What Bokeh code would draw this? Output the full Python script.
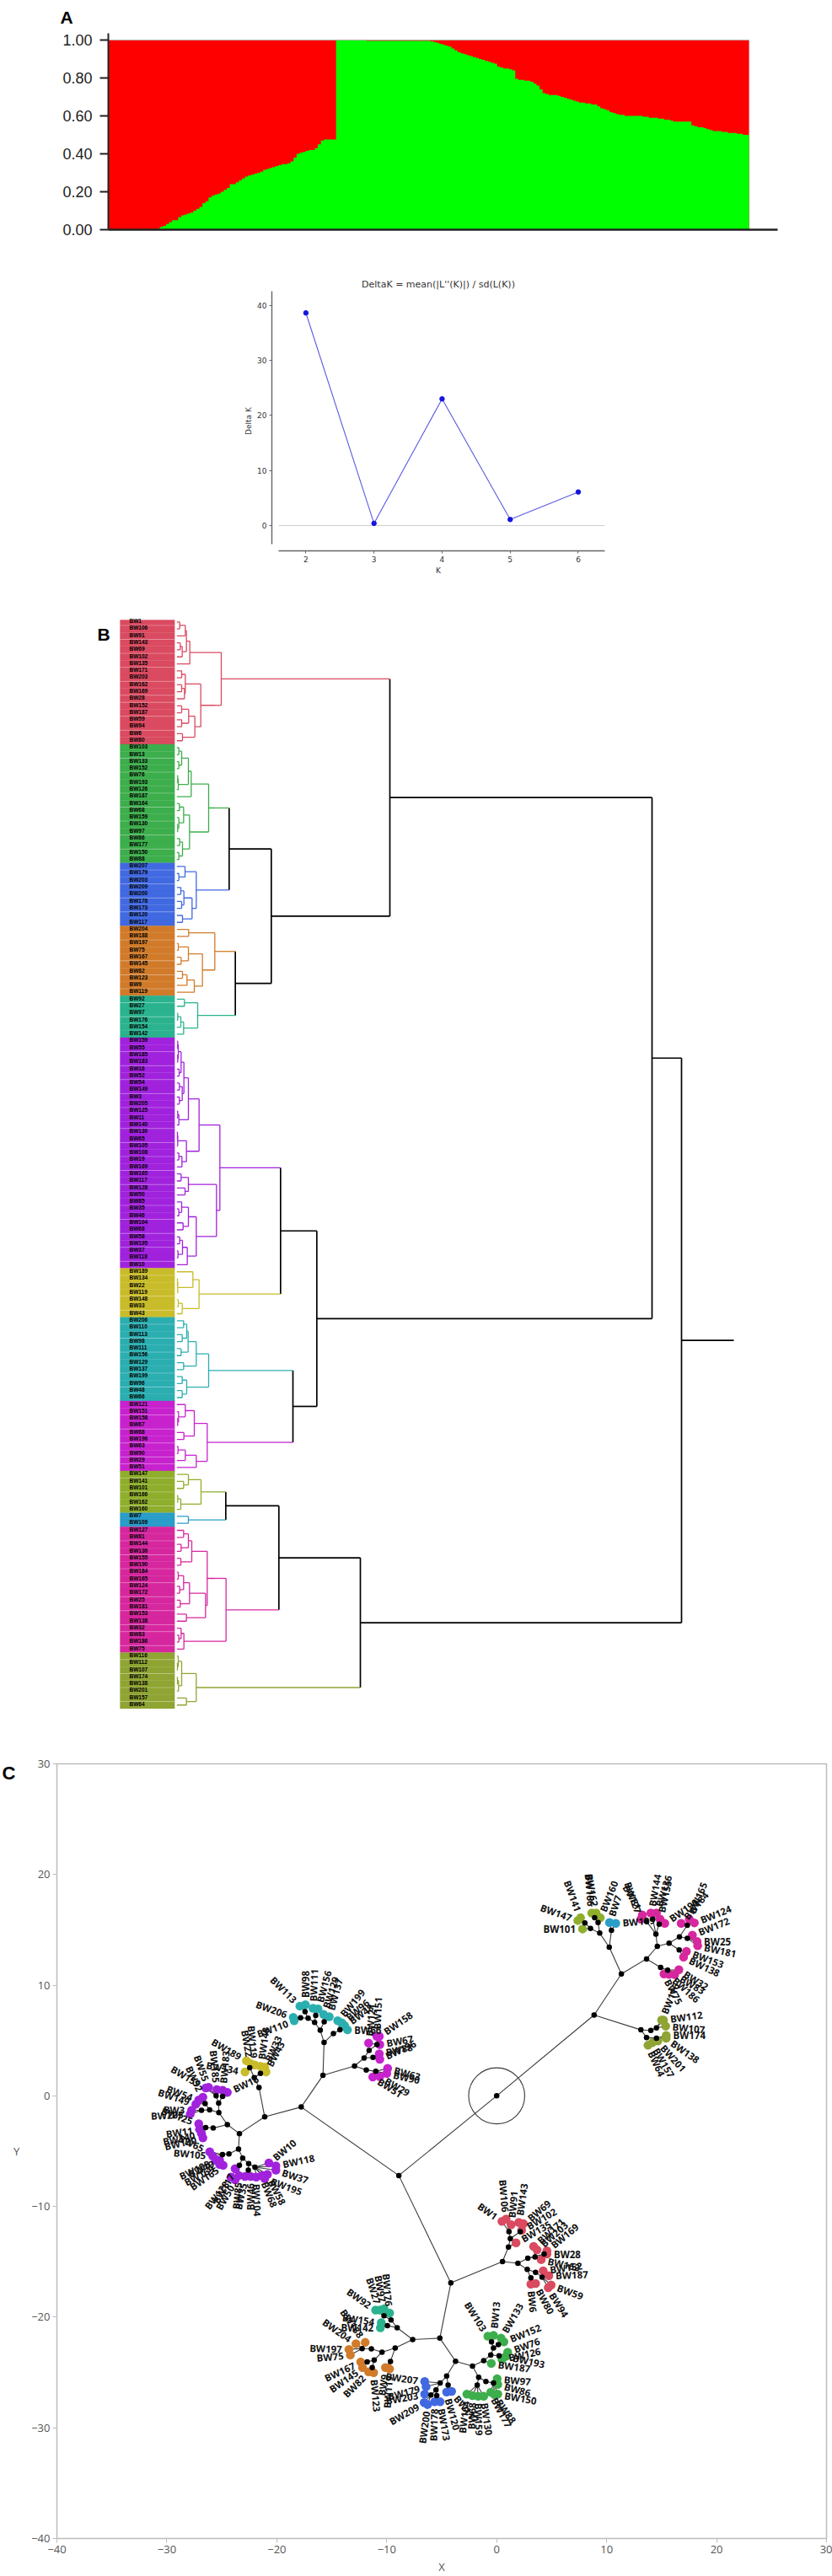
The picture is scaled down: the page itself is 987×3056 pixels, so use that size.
import math
from bokeh.plotting import figure
from bokeh.layouts import column
from bokeh.core.properties import value
from bokeh.models import ColumnDataSource, FixedTicker, Label, Range1d, NumeralTickFormatter
from bokeh.embed import file_html
from bokeh.resources import INLINE

# ---------- panel A: admixture proportions ----------
green_fraction = [
 0,0,0,0,0,0,0,0,0,0,0,0,0,0,0,0,
 .005,.014,.02,.03,.04,.05,.05,.065,.075,.08,.085,.09,.10,.11,.12,.14,.15,.17,.18,.185,.19,.20,.21,.22,
 .24,.24,.25,.26,.27,.28,.285,.29,.295,.30,.305,.315,.32,.325,.33,.335,.34,.345,.345,.35,.36,.38,.40,.405,
 .41,.415,.42,.42,.43,.45,.47,.475,.475,.475,.475,
 1,1,1,1,1,1,1,1,1,1,
 .995,.995,.995,.995,.995,.995,.995,.995,.995,.995,.995,.995,.995,.995,.995,.995,.995,.995,.995,.995,.995,
 .993,.99,.985,.98,.975,.97,.965,.955,.945,.935,.93,.925,.92,.915,.91,.905,.90,.895,.89,.885,.88,.875,.86,.855,.85,.85,.845,.84,
 .795,.79,.79,.785,.785,.78,.77,.76,.74,.72,.715,.71,.71,.71,.705,.70,.695,.69,.685,.68,.675,.67,.67,.665,.665,.66,.66,.65,.64,
 .635,.63,.62,.615,.61,.605,.605,.60,.60,.60,.60,.60,.60,.595,.595,.59,.59,.59,.585,.585,.58,.58,.575,.57,.57,.57,.57,.57,.57,
 .55,.545,.54,.54,.535,.53,.525,.52,.52,.52,.515,.515,.51,.51,.51,.505,.505,.50,.50]
k_values = [2, 3, 4, 5, 6]
delta_k = [38.6, 0.4, 23.0, 1.1, 6.1]
admix_ticks = [0, .2, .4, .6, .8, 1]
delta_ticks = [0, 10, 20, 30, 40]
net_ticks = [-40, -30, -20, -10, 0, 10, 20, 30]

# ---------- palette ----------
palette = dict(red="#DA4A60", green="#3DAE4C", blue="#4169E1", orange="#D17B2A", tgreen="#2AB38E",
               purple="#A122DD", yellow="#C9BC2A", teal="#2BAEB0", magenta="#C722CE", olive="#8FAE2C",
               sky="#2A9DC8", pink="#D6279E", dolive="#8FA432", black="#000000")
cluster_order = ["red","green","blue","orange","tgreen","purple","yellow","teal","magenta","olive","sky","pink","dolive"]
cluster_sizes = [18,17,9,10,6,33,7,12,10,6,2,18,8]

# ---------- panel B: dendrogram [height, child, child], leaves are row numbers ----------
leaf_height = 328
red_tree = [486,
  [374,[362,[358,[338,0,1],2],[347,[340,3,4],5]],6],
  [413,[358,[345,7,8],[355,[345,9,10],11]],[392,[370,[345,12,13],[345,14,15]],[348,16,17]]]]
green_tree = [441,
  [379,[369,[345,[335,18,19],[335,20,21]],[333,[331,22,23],24]],25],
  [373,[352,[337,26,27],[335,28,[331,29,30]]],[348,[338,31,32],[335,33,34]]]]
blue_tree = [397,[357,35,[335,36,37]],[382,[353,[342,38,39],[345,40,41]],[348,42,43]]]
orange_tree = [463,[370,44,45],[419,[369,[333,46,47],[343,48,49]],[390,[364,[348,50,51],52],53]]]
tgreen_tree = [402,[355,54,55],[352,[342,[331,56,57],58],59]]
purple_tree = [481,
  [407,
    [369,[353,[343,[333,[331,60,61],[331,62,63]],[336,64,65]],[347,[337,66,67],[337,68,69]]],[335,[331,70,71],72]],
    [362,[331,[330,73,74],75],[346,[335,76,77],78]]],
  [469,
    [369,[343,79,80],[357,81,82]],
    [397,[369,[345,83,[335,84,85]],[350,86,87]],[365,[348,[338,88,89],[332,90,91]],92]]]]
yellow_tree = [407,[385,93,[331,[330,94,95],96]],[347,[333,97,98],99]]
teal_tree = [441,[397,[368,[363,[352,100,101],[347,102,103]],[343,104,105]],[352,106,107]],[363,[347,108,109],[347,110,111]]]
magenta_tree = [436,[390,[358,112,[334,113,[331,114,115]]],[353,116,117]],[397,[358,[332,118,119],120],121]]
olive_tree = [414,[369,122,[352,123,124]],[342,[331,125,126],127]]
sky_tree = [369,128,129]
pink_tree = [503,
  [436,[381,[369,[352,130,131],[343,132,133]],[342,134,135]],
       [430,[373,[352,[333,136,137],[338,138,139]],[340,140,141]],[362,142,143]]],
  [353,[343,144,[335,145,146]],147]]
dolive_tree = [397,[345,[333,148,[330,149,150]],[334,[330,151,152],153]],[362,154,155]]
root_stem = 2310
dendro = [2124,
  [2019,
    [1086,("red",red_tree),
      [664,[514,("green",green_tree),("blue",blue_tree)],[536,("orange",orange_tree),("tgreen",tgreen_tree)]]],
    [826,[697,("purple",purple_tree),("yellow",yellow_tree)],[741,("teal",teal_tree),("magenta",magenta_tree)]]],
  [981,[691,[502,("olive",olive_tree),("sky",sky_tree)],("pink",pink_tree)],("dolive",dolive_tree)]]
row_breaks = [0,2,4,6,8,10,11,13,15,19,21,24,26,28,30,32,35,37,39,41,45,48,50,52,54,56,61,63,65,67,69,72,74,76,78,80,83,85,87,89,91,
              93,96,98,100,102,104,107,109,113,115,117,119,120,122,124,126,131,133,135,137,139,141,143,144,146,148,150,152,154]

# ---------- panel C: network ----------
def N(x, y, *kids, color=None):
    return dict(x=x, y=y, kids=kids, color=color)
def L(x, y, name, ang):
    return dict(x=x, y=y, name=name, ang=ang)

net_teal = N(-15.7,4.82,
  N(-16.05,5.93,
    N(-16.56,6.64,
      N(-17.15,7.02,
        N(-17.84,7.05,L(-18.5,7.1,"BW206",160),L(-18.42,6.79,"BW110",200)),
        N(-17.43,7.6,L(-17.9,8.11,"BW113",135),L(-17.4,8.24,"BW98",90))),
      N(-16.46,7.27,L(-16.71,7.91,"BW111",88),L(-16.25,7.86,"BW156",75))),
    N(-15.69,6.69,L(-15.74,7.35,"BW129",72),L(-15.23,7.15,"BW137",75))),
  N(-14.85,5.63,N(-14.26,5.96,L(-14.46,6.79,"BW199",50),L(-14.08,6.59,"BW96",40),L(-13.83,6.34,"BW48",35),L(-13.57,5.96,"BW66",0))),
  color="teal")
net_magenta = N(-12.93,2.69,
  N(-12.06,3.42,
    N(-11.6,4.11,N(-10.89,4.64,L(-11.65,4.77,"BW121",85),L(-10.9,5.38,"BW151",88),L(-10.68,5.38,"BW158",35),L(-10.63,4.64,"BW67",10))),
    N(-11.25,3.47,L(-10.68,3.8,"BW88",12),L(-10.63,3.3,"BW196",25))),
  N(-11.86,2.34,N(-11.0,2.21,L(-9.92,2.49,"BW63",-15),L(-10.0,2.03,"BW90",-12),L(-10.63,1.73,"BW29",-30),L(-11.27,1.7,"BW51",-32))),
  color="magenta")
net_yellow = N(-21.62,.76,
  N(-22.05,1.65,
    N(-22.46,2.54,L(-22.76,3.17,"BW189",150),L(-22.89,2.16,"BW134",170),L(-22.38,2.92,"BW22",100),L(-22.0,2.79,"BW119",95)),
    N(-21.49,2.03,L(-21.49,2.67,"BW148",82),L(-21.1,2.59,"BW33",65),L(-20.98,2.16,"BW43",62))),
  color="yellow")
net_purple = N(-23.4,-3.41,
  N(-24.5,-2.6,
    N(-25.27,-1.51,
      N(-25.29,-.65,
        N(-25.52,0,L(-26.46,.71,"BW159",150),L(-26.21,.77,"BW55",110),L(-25.45,.56,"BW185",95)),
        N(-24.93,-.05,L(-24.93,.51,"BW183",85),L(-24.5,.31,"BW16",25))),
      N(-26.11,-1.26,
        N(-26.52,-.7,L(-26.72,-.12,"BW52",115),L(-27.1,-.37,"BW54",160),L(-27.36,-.75,"BW149",162)),
        N(-26.85,-1.31,L(-27.75,-1.31,"BW3",178),L(-27.87,-1.64,"BW205",183)))),
    N(-25.78,-2.91,N(-26.47,-2.86,L(-27.1,-2.53,"BW125",160),L(-27.03,-3.03,"BW11",188),L(-26.85,-3.41,"BW140",192),L(-26.72,-3.8,"BW130",193)))),
  N(-23.48,-4.81,
    N(-24.35,-5.24,N(-24.94,-5.31,L(-26.1,-5.06,"BW65",155),L(-25.83,-5.44,"BW105",175),L(-25.57,-5.82,"BW108",205),
                     L(-25.2,-5.82,"BW19",205),L(-25.2,-6.2,"BW169",208),L(-24.88,-6.27,"BW165",215))),
    N(-23.1,-5.62,
      N(-23.4,-6.28,L(-23.79,-6.58,"BW117",240),L(-24.17,-7.34,"BW128",232),L(-23.79,-7.59,"BW50",240),L(-23.45,-7.2,"BW85",265)),
      N(-22.56,-6.13,
        N(-22.59,-6.71,L(-22.89,-7.29,"BW35",258),L(-22.38,-7.29,"BW46",270)),
        N(-21.99,-6.45,L(-21.87,-7.34,"BW104",272),L(-21.36,-7.21,"BW68",292),L(-20.85,-7.09,"BW58",298),L(-21.1,-7.47,"BW195",-20),
                       L(-20.08,-6.71,"BW37",-18),L(-20.08,-6.33,"BW118",12),L(-20.72,-6.07,"BW10",40))))),
  color="purple")
net_olive = N(9.37,14.7,
  N(8.53,15.13,N(8.02,15.63,L(7.38,15.84,"BW147",160),L(7.63,16.09,"BW141",110)),L(7.81,15.08,"BW101",180)),
  N(9.22,15.66,N(8.91,16.09,L(8.65,16.52,"BW166",95),L(9.04,16.52,"BW162",100)),L(9.42,16.09,"BW160",68)),
  color="olive")
net_sky = N(10.44,14.95,L(10.26,15.66,"BW7",72),L(10.83,15.58,"BW109",5),color="sky")
net_pink = N(13.63,12.37,
  N(14.61,13.51,
    N(14.48,14.62,
      N(13.63,15.76,L(13.12,15.96,"BW127",110),L(13.25,16.34,"BW81",120)),
      N(14.2,15.96,L(14.02,16.52,"BW144",80),L(14.53,16.52,"BW136",72)),
      N(14.78,15.51,L(14.86,15.96,"BW155",78),L(15.29,15.58,"BW190",35))),
    N(15.68,13.79,
      N(16.62,14.37,
        N(17.34,15.41,L(16.78,15.58,"BW184",50),L(17.52,15.96,"BW165",68),L(17.98,15.63,"BW124",22)),
        N(17.34,14.24,L(17.8,14.52,"BW172",22),L(18.23,13.94,"BW25",0),L(18.28,13.56,"BW181",-12))),
      N(16.6,13.18,L(17.26,13.05,"BW153",-20),L(17.0,12.54,"BW138",-25)))),
  N(14.91,11.61,N(15.55,11.35,L(16.57,11.4,"BW32",-32),L(16.19,10.95,"BW83",-30),L(15.68,10.97,"BW186",-42),L(15.22,11.02,"BW75",-62))),
  color="pink")
net_dolive = N(13.12,5.96,
  N(14.02,5.91,N(14.53,6.14,L(15.0,6.85,"BW116",68),L(15.17,6.85,"BW112",8),L(15.37,6.3,"BW107",-5))),
  N(13.63,5.27,N(14.53,5.2,L(15.42,5.45,"BW174",0),L(15.42,5.2,"BW138",-35),L(14.66,4.95,"BW201",-48),L(14.15,4.8,"BW157",-60),L(13.76,4.57,"BW64",-65))),
  color="dolive")
net_red = N(.53,-14.98,
  N(1.07,-13.67,
    N(1.24,-12.9,
      N(1.12,-12.27,L(.48,-11.34,"BW1",145),L(.86,-11.13,"BW106",95),L(1.32,-11.64,"BW91",85)),
      N(2.14,-12.27,L(2.01,-11.44,"BW143",82),L(2.44,-11.56,"BW69",40),L(2.27,-12.15,"BW102",30))),
    L(1.76,-13.29,"BW135",30)),
  N(1.93,-15.13,
    N(2.83,-14.68,
      N(3.49,-14.55,L(3.36,-13.61,"BW171",42),L(3.67,-13.92,"BW203",42),L(4.05,-14.8,"BW162",-12)),
      N(4.31,-14.3,L(4.57,-14.0,"BW169",40),L(4.57,-14.3,"BW28",0))),
    N(2.78,-15.69,
      N(3.54,-15.95,N(4.13,-16.38,L(4.23,-15.82,"BW152",8),L(4.74,-16.25,"BW187",2),L(4.95,-17.09,"BW59",-20),L(4.69,-17.34,"BW94",-58))),
      N(3.11,-16.45,L(3.11,-17.01,"BW6",-85),L(3.54,-16.96,"BW80",-62)))),
  color="red")
net_tgreen = N(-9.05,-20.96,
  N(-9.61,-20.25,N(-10.25,-19.87,L(-11.01,-19.36,"BW92",145),L(-10.63,-19.36,"BW27",108),L(-10.25,-19.24,"BW97",100),L(-9.74,-19.62,"BW176",95))),
  N(-9.94,-20.76,L(-10.5,-20.5,"BW154",172),L(-10.58,-20.96,"BW142",180)),
  color="tgreen")
net_orange = N(-9.23,-22.78,
  N(-10.43,-23.16,
    N(-11.4,-22.86,N(-12.24,-22.84,L(-12.8,-22.4,"BW204",145),L(-11.96,-22.28,"BW188",125),L(-13.44,-22.91,"BW197",178),L(-13.31,-23.42,"BW75",185))),
    N(-11.14,-23.87,N(-11.78,-24.05,L(-12.37,-24.05,"BW167",205),L(-12.2,-24.56,"BW145",215)),
                    N(-11.32,-24.56,L(-11.65,-24.94,"BW82",225),L(-11.19,-25.01,"BW123",275)))),
  N(-9.66,-24.0,L(-10.12,-24.56,"BW9",262),L(-9.74,-24.68,"BW119",266)),
  color="orange")
net_blue = N(-4.55,-25.32,
  N(-5.14,-25.95,
    L(-6.55,-25.82,"BW207",172),L(-6.42,-26.28,"BW179",195),
    N(-5.52,-26.58,
      N(-5.98,-27.04,L(-6.55,-26.96,"BW203",190),L(-6.6,-27.72,"BW209",210),L(-6.29,-27.9,"BW200",262)),
      N(-5.45,-27.09,L(-5.65,-27.65,"BW178",268),L(-5.14,-27.65,"BW173",280)))),
  N(-4.42,-26.13,L(-4.55,-26.76,"BW120",-75),L(-4.1,-26.71,"BW117",-50)),
  color="blue")
net_green = N(-2.2,-24.43,
  N(-1.18,-23.92,
    N(-.54,-23.42,
      N(-.29,-22.78,
        N(-.47,-22.23,L(-.8,-21.72,"BW103",122),L(-.29,-21.64,"BW13",85)),
        N(.15,-22.48,L(.4,-21.9,"BW133",60),L(.66,-22.23,"BW152",22))),
      N(.22,-23.49,L(1.0,-23.16,"BW76",20),L(.86,-23.54,"BW193",-12),L(.48,-23.8,"BW126",12))),
    L(-.49,-24.18,"BW187",-8)),
  N(-1.64,-25.44,
    N(-1.77,-26.13,L(-2.71,-26.96,"BW164",263),L(-2.2,-27.09,"BW68",268),L(-1.69,-27.14,"BW159",272),L(-1.18,-27.14,"BW130",278)),
    N(-.98,-25.82,N(-.29,-25.95,L(.04,-25.57,"BW97",-5),L(.1,-26.08,"BW86",-15),L(-.54,-26.79,"BW177",-62),L(.1,-26.96,"BW150",-10),L(-.2,-27.0,"BW88",-55)))),
  color="green")
net_root = N(0,0,
  N(8.86,7.3,
    N(11.34,11.02,N(10.24,13.43,net_olive,net_sky),net_pink),
    net_dolive),
  N(-8.9,-7.2,
    N(-17.78,-1.01,
      N(-15.8,1.85,net_teal,net_magenta),
      N(-21.1,-1.9,net_yellow,net_purple)),
    N(-4.17,-16.91,
      net_red,
      N(-5.17,-21.9,
        N(-7.64,-22.02,net_tgreen,net_orange),
        N(-3.74,-23.98,net_blue,net_green)))))
root_ring_radius = 2.55

# ---------- walk the network ----------
ex0, ey0, ex1, ey1, dotx, doty, lx, ly, lc, tx, ty, tt, ta, tal = [], [], [], [], [], [], [], [], [], [], [], [], [], []
names = {c: [] for c in cluster_order}
def walk(n, color):
    if "name" in n:
        lx.append(n["x"]); ly.append(n["y"]); lc.append(palette[color]); names[color].append(n["name"])
        a = n["ang"]; r = .62
        tx.append(n["x"] + r*math.cos(math.radians(a))); ty.append(n["y"] + r*math.sin(math.radians(a)))
        tt.append(n["name"])
        if math.cos(math.radians(a)) >= 0:
            ta.append(math.radians(a)); tal.append("left")
        else:
            ta.append(math.radians(a-180)); tal.append("right")
        return
    color = n["color"] or color
    dotx.append(n["x"]); doty.append(n["y"])
    for k in n["kids"]:
        ex0.append(n["x"]); ey0.append(n["y"]); ex1.append(k["x"]); ey1.append(k["y"])
        walk(k, color)
walk(net_root, "black")

# ---------- walk the dendrogram ----------
sx0, sy0, sx1, sy1, sc, sw = [], [], [], [], [], []
def seg(a, b, c, d, col):
    sx0.append(a); sy0.append(b); sx1.append(c); sy1.append(d); sc.append(palette[col])
    sw.append(1.7 if col == "black" else 1.3)
def dwalk(node, color):
    if isinstance(node, int):
        return node, leaf_height, color
    if isinstance(node, tuple):
        color, node = node
    h, a, b = node
    ya, ha, ca = dwalk(a, color)
    yb, hb, cb = dwalk(b, color)
    seg(h, ya, h, yb, color)
    seg(ha, ya, h, ya, ca)
    seg(hb, yb, h, yb, cb)
    return (ya+yb)/2, h, color
rooty, rooth, _ = dwalk(dendro, "black")
seg(rooth, rooty, root_stem, rooty, "black")

# leaf rows
row = 0
cell_c, cell_t, cell_b, cell_y, cell_n = [], [], [], [], []
for c, n in zip(cluster_order, cluster_sizes):
    for i in range(n):
        cell_c.append(palette[c]); cell_y.append(row)
        cell_t.append(max(row-.5, -.28)); cell_b.append(row+.5)
        cell_n.append(names[c][i]); row += 1

FONT_BIG = "Liberation Sans"
W = 987

# ---- A top
p1 = figure(width=W, height=300, output_backend="svg", toolbar_location=None,
            x_range=Range1d(0, 220.4), y_range=Range1d(0, 1.035), frame_align=False,
            min_border_left=128, min_border_right=65, min_border_top=39, min_border_bottom=28)
p1.outline_line_color = None; p1.grid.visible = False
n_samples = len(green_fraction)
edges = list(range(n_samples + 1))
green_steps = green_fraction + green_fraction[-1:]
p1.varea_step(x=edges, y1=[0]*(n_samples+1), y2=[1]*(n_samples+1), step_mode="after", fill_color="#FF0000")
p1.varea_step(x=edges, y1=[0]*(n_samples+1), y2=green_steps, step_mode="after", fill_color="#00FF00")
p1.line([0, n_samples], [1, 1], color="#b8b8b8", line_width=1)
p1.yaxis.ticker = FixedTicker(ticks=admix_ticks)
p1.yaxis.formatter = NumeralTickFormatter(format="0.00")
p1.yaxis.major_label_text_font = FONT_BIG; p1.yaxis.major_label_text_font_size = "18px"
p1.yaxis.major_label_text_color = "#222222"
p1.yaxis.axis_line_width = 2; p1.yaxis.axis_line_color = "#222222"
p1.yaxis.major_tick_line_width = 2; p1.yaxis.major_tick_line_color = "#222222"
p1.yaxis.major_tick_out = 10; p1.yaxis.major_tick_in = 0; p1.yaxis.minor_tick_line_color = None
p1.yaxis.major_label_standoff = 9
p1.xaxis.ticker = FixedTicker(ticks=[]); p1.xaxis.axis_line_width = 2.5; p1.xaxis.axis_line_color = "#222222"
p1.xaxis.major_label_text_color = None; p1.xaxis.minor_tick_line_color = None; p1.xaxis.major_tick_line_color = None
p1.title.text = "A"; p1.title.align = "left"; p1.title.offset = -57; p1.title.standoff = 12
p1.title.vertical_align = "top"
p1.title.text_font = FONT_BIG; p1.title.text_font_size = "21px"; p1.title.text_font_style = "bold"
p1.title.text_color = "#000000"

# ---- A delta K
p2 = figure(width=W, height=400, output_backend="svg", toolbar_location=None,
            x_range=Range1d(1.5, 6.39), y_range=Range1d(-4.59, 42.54), frame_align=False,
            min_border_left=322, min_border_right=270, min_border_top=45, min_border_bottom=47)
p2.outline_line_color = None; p2.grid.visible = False
p2.segment([1.6], [0], [6.39], [0], color="#cfcfcf", line_width=1)
p2.line(k_values, delta_k, color="#5A5ADF", line_width=1.1)
p2.scatter(k_values, delta_k, size=5.5, color="#1515E0")
for ax in (p2.xaxis, p2.yaxis):
    ax.axis_line_color = "#666666"; ax.axis_line_width = 1.4; ax.major_tick_line_color = "#666666"
    ax.major_tick_out = 3; ax.major_tick_in = 0; ax.minor_tick_line_color = None
    ax.major_label_text_font = "DejaVu Sans"; ax.major_label_text_font_size = "9px"; ax.major_label_text_color = "#333333"
    ax.major_label_standoff = 3
    ax.axis_label_text_font = "DejaVu Sans"; ax.axis_label_text_font_size = "9px"; ax.axis_label_text_color = "#333333"
    ax.axis_label_text_font_style = "normal"; ax.axis_label_standoff = 2
p2.xaxis.ticker = FixedTicker(ticks=k_values); p2.yaxis.ticker = FixedTicker(ticks=delta_ticks)
p2.xaxis.bounds = (1.6, 6.39); p2.yaxis.bounds = (-3.4, 42.5)
p2.xaxis.axis_label = "K"; p2.yaxis.axis_label = "Delta K"
p2.title.text = "DeltaK = mean(|L''(K)|) / sd(L(K))"; p2.title.align = "center"; p2.title.standoff = 3
p2.title.text_font = "DejaVu Sans"; p2.title.text_font_size = "11px"; p2.title.text_font_style = "normal"
p2.title.text_color = "#333333"

# ---- B dendrogram (its frame runs on behind the top of panel C)
p3 = figure(width=W, height=1430, output_backend="svg", toolbar_location=None,
            x_range=Range1d(-300, 2661), y_range=Range1d(168.0, -4.5), frame_align=False,
            min_border=0, x_axis_location=None, y_axis_location=None)
p3.outline_line_color = None; p3.grid.visible = False
p3.quad(left=126, right=320, top=cell_t, bottom=cell_b, fill_color=cell_c, line_color=cell_c, line_width=.3)
p3.segment([126]*len(row_breaks), [b+.5 for b in row_breaks], [320]*len(row_breaks), [b+.5 for b in row_breaks],
           color="#ffffff", line_alpha=.3, line_width=1)
p3.segment(sx0, sy0, sx1, sy1, color=sc, line_width=sw)
p3.text(x=[159]*len(cell_n), y=[v-.15 for v in cell_y], text=cell_n, text_font=value("Liberation Sans"),
        text_font_size="6.5px", text_font_style="bold",
        text_color="#000000", text_baseline="middle", text_align="left")
p3.add_layout(Label(x=115, y=1378, x_units="screen", y_units="screen", text="B", text_font=FONT_BIG,
                    text_font_size="21px", text_font_style="bold", text_color="#000000", text_baseline="alphabetic"))
p3.add_layout(Label(x=2, y=27, x_units="screen", y_units="screen", text="C", text_font=FONT_BIG,
                    text_font_size="22px", text_font_style="bold", text_color="#000000", text_baseline="alphabetic"))

# ---- C network
p4 = figure(width=W, height=996, output_backend="svg", toolbar_location=None,
            x_range=Range1d(-40, 30), y_range=Range1d(-40, 30), frame_align=False,
            min_border_left=67, min_border_right=7, min_border_top=32, min_border_bottom=43,
            margin=(-70, 0, 0, 0), border_fill_color=None, background_fill_color=None)
p4.outline_line_color = "#bdbdbd"; p4.outline_line_width = 1.5; p4.grid.visible = False
for ax in (p4.xaxis, p4.yaxis):
    ax.axis_line_color = "#bdbdbd"; ax.major_tick_line_color = "#bdbdbd"; ax.major_tick_out = 5; ax.major_tick_in = 0
    ax.minor_tick_line_color = None; ax.ticker = FixedTicker(ticks=net_ticks)
    ax.major_label_text_font = "Open Sans"; ax.major_label_text_font_size = "13px"; ax.major_label_text_color = "#555555"
    ax.major_label_standoff = 3
    ax.axis_label_text_font = "Open Sans"; ax.axis_label_text_font_size = "13px"; ax.axis_label_text_color = "#555555"
    ax.axis_label_text_font_style = "normal"
p4.xaxis.axis_label = "X"; p4.xaxis.axis_label_standoff = 4
p4.yaxis.axis_label = "Y"; p4.yaxis.axis_label_standoff = 11; p4.yaxis.axis_label_orientation = "horizontal"
p4.segment(ex0, ey0, ex1, ey1, color="#3a3a3a", line_width=1.1)
p4.circle([0], [0], radius=root_ring_radius, fill_color=None, line_color="#3a3a3a", line_width=1.1)
p4.scatter(lx, ly, size=10.5, color=lc, line_color=None)
p4.scatter(dotx, doty, size=6.5, color="#000000", line_color=None)
src = ColumnDataSource(dict(x=tx, y=ty, t=tt, a=ta, al=tal))
p4.text(x="x", y="y", text="t", angle="a", text_align="al", source=src, text_font=value("Open Sans"),
        text_font_size="11.5px", text_font_style="bold", text_color="#111111", text_baseline="middle")

layout = column(p1, p2, p3, p4, spacing=0)
open("out.html", "w").write(file_html(layout, INLINE))
